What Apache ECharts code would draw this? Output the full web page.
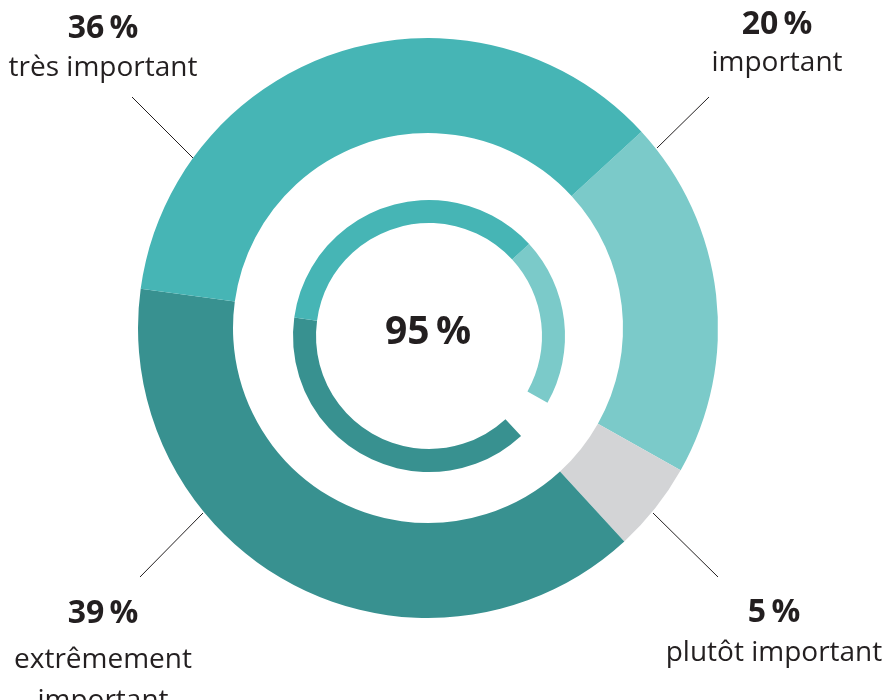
<!DOCTYPE html>
<html>
<head>
<meta charset="utf-8">
<script src="https://cdn.jsdelivr.net/npm/echarts@6/dist/echarts.min.js"></script>
<style>
html,body{margin:0;padding:0;background:#fff;}
#chart{width:884px;height:700px;}
</style>
</head>
<body>
<div id="chart"></div>
<script>
// Data (clockwise order starting at the top-right boundary)
var categories = ['important', 'plutôt important', 'extrêmement important', 'très important'];
var labelTexts = ['important', 'plutôt important', 'extrêmement\nimportant', 'très important'];
var values = [20, 5, 39, 36];
var colors = ['#7bcac9', '#d3d4d6', '#389190', '#46b5b5'];
var innerShown = [true, false, true, true];

var chart = echarts.init(document.getElementById('chart'), null, {renderer: 'canvas'});

var total = values.reduce(function (a, b) { return a + b; }, 0);
var centerValue = values.reduce(function (a, v, i) { return a + (innerShown[i] ? v : 0); }, 0);

var outerData = categories.map(function (c, i) {
  return {name: c, value: values[i], itemStyle: {color: colors[i]}};
});
var innerData = categories.map(function (c, i) {
  return {name: c, value: values[i], itemStyle: {color: innerShown[i] ? colors[i] : 'rgba(0,0,0,0)'}};
});

// label layout (positions only)
var labelPos = [
  {x: 777, vy: 25, ny: 63},
  {x: 774, vy: 613, ny: 653},
  {x: 103, vy: 614, ny: 660},
  {x: 103, vy: 29, ny: 68}
];
var linePts = [
  [[709, 97], [657, 148]],
  [[653, 513], [718, 577]],
  [[203, 513], [140, 577]],
  [[132, 97], [193, 158]]
];
var fontFam = '"Open Sans", Lato, sans-serif';
var textColor = '#231f20';

var graphics = [];
categories.forEach(function (c, i) {
  var p = labelPos[i];
  graphics.push({
    type: 'text', silent: true,
    x: p.x, y: p.vy,
    style: {text: Math.round(values[i] / total * 100) + '\u2009%', font: '700 32px ' + fontFam, fill: textColor, align: 'center', verticalAlign: 'middle'}
  });
  graphics.push({
    type: 'text', silent: true,
    x: p.x, y: p.ny - 20,
    style: {text: labelTexts[i], font: '400 28px ' + fontFam, fill: textColor, align: 'center', verticalAlign: 'top', lineHeight: 41}
  });
  graphics.push({
    type: 'polyline', silent: true,
    shape: {points: linePts[i]},
    style: {stroke: textColor, lineWidth: 1, fill: null}
  });
});
graphics.push({
  type: 'text', silent: true,
  x: 428, y: 333,
  style: {text: centerValue + '\u2009%', font: '700 39px ' + fontFam, fill: textColor, align: 'center', verticalAlign: 'middle'}
});

chart.setOption({
  animation: false,
  backgroundColor: '#ffffff',
  series: [
    {
      type: 'pie',
      center: [428, 328],
      radius: [195, 290],
      startAngle: 42.6,
      clockwise: true,
      silent: true,
      label: {show: false},
      labelLine: {show: false},
      emphasis: {disabled: true},
      data: outerData
    },
    {
      type: 'pie',
      center: [429, 336],
      radius: [113, 136],
      startAngle: 42.6,
      clockwise: true,
      silent: true,
      label: {show: false},
      labelLine: {show: false},
      emphasis: {disabled: true},
      data: innerData
    }
  ],
  graphic: graphics
});
</script>
</body>
</html>
